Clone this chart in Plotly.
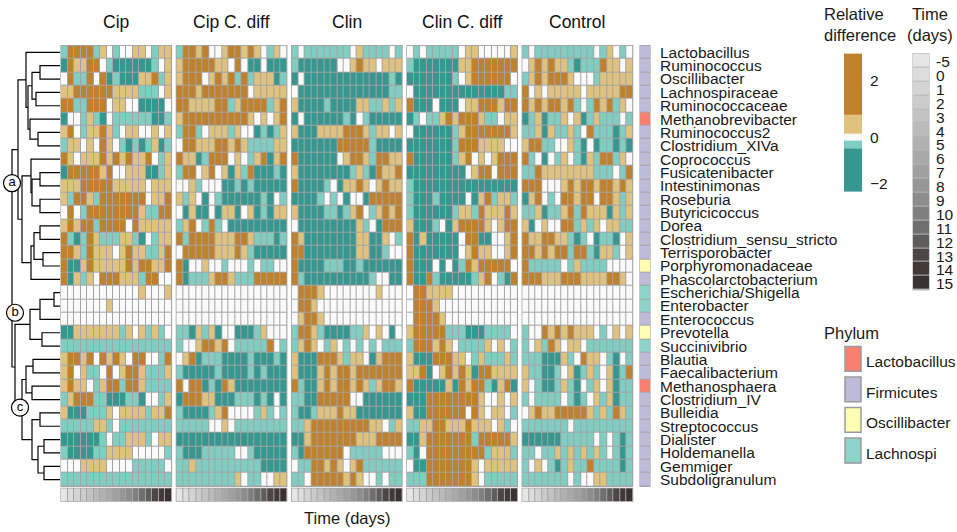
import plotly.graph_objects as go

W, H = 957, 532

# ---------------- data ----------------
GENERA = ["Lactobacillus", "Ruminococcus", "Oscillibacter", "Lachnospiraceae", "Ruminococcaceae",
          "Methanobrevibacter", "Ruminococcus2", "Clostridium_XIVa", "Coprococcus", "Fusicatenibacter",
          "Intestinimonas", "Roseburia", "Butyricicoccus", "Dorea", "Clostridium_sensu_stricto",
          "Terrisporobacter", "Porphyromonadaceae", "Phascolarctobacterium", "Escherichia/Shigella",
          "Enterobacter", "Enterococcus", "Prevotella", "Succinivibrio", "Blautia", "Faecalibacterium",
          "Methanosphaera", "Clostridium_IV", "Bulleidia", "Streptococcus", "Dialister", "Holdemanella",
          "Gemmiger", "Subdoligranulum"]

PHYLUM_NAMES = ["Lactobacillus", "Firmicutes", "Oscillibacter", "Lachnospi"]
# phylum index per genus (row)
PHYLUM_OF_ROW = [1, 1, 1, 1, 1, 0, 1, 1, 1, 1, 1, 1, 1, 1, 1, 1, 2, 1, 3, 3, 1, 2, 3, 1, 1, 0, 1, 1, 1, 1, 1, 1, 1]

TIME_DAYS = [-5, 0, 1, 2, 3, 4, 5, 6, 7, 8, 9, 10, 11, 12, 13, 14, 15]
GROUPS = ["Cip", "Cip C. diff", "Clin", "Clin C. diff", "Control"]

# relative difference levels: D=-2, T=-1, W=0, Y=1, B=2
LEVEL = {"D": -2, "T": -1, "W": 0, "Y": 1, "B": 2}

CIP = ["TBBBBTYWTWWYYWTYY", "DBYYBBWTDDDDDDTWY", "WBTTBWBDTDDDYYBTY", "YYBBBBBBYYYYTTTWY",
       "BBTTBBBWYYWWDDDDW", "DWWTYTDWTTTTTTDDT", "YBWTYYBYTWYYWWYWY", "TYYWYWBYWTDTDTYDT",
       "BYWYYYBYBYBYYBWTY", "DBBBBBYBWWYYYDDTY", "YYYBBBBBYYYYYWYYY", "YTBBYTBBBBBBBWYYB",
       "WBWTBBBBBBBBYTTBB", "YBYBBTBBBBWBYYYYY", "BTDTBYTTTYYTDWTYY", "BBYTBYYYWYBYYTTYB",
       "BDDYBYYYYYBYBBYYB", "BDYTYWBBBYYYTBBWW", "WWWWWWWWWWWWYWWWY", "WWWWWWWYWWWWWWWWW",
       "WWWWWWWWWWWWWWWWW", "DDYYYYYYYTYWYTYTW", "TTTTTTTTTTTTTTTTT", "YBBYBWBYBYWBBWWTB",
       "YBWYTTWBWYBBYTTTY", "YBYYWTYBBTBBYTTTT", "TYBBBTTDDDTTDWWTY", "YDDDTTTYWYYYYTYYB",
       "TTTTTYYTWTTTTTTTT", "DDDDDDTWTTYYYTWYY", "TDDDDTTYYYYWWWWWT", "WWWYYYYWWWWTTTTTW",
       "TTTTTTTTTTTTTTTTT"]

CIP_CD = ["TBBYBWWYBBYBYWTYW", "YBBBBBYYWBWDDWDDD", "YBBBWYBYBTBTYYYDT", "BBBYBBBBBBBWYYYYY",
          "BBYYYYBBTYBBBBTYB", "YBBBBBBBBBBYWYWYB", "TBBTWYYYTYWWDTDTY", "WBBYYYBBYBYTTTTYY",
          "BYYDTBBBWYWTYBDYB", "TBBWYBWYDYTBDDDTD", "WWYTWWWDDTDTDDDDD", "YTYWDWTDDDDDDTDWT",
          "WDYDDWDYYDWYDTDYY", "TYBWTBTWDDDDDDDDD", "BTBBBBYYYBBYTTTDT", "WBBBBBYYYBYTDDDDD",
          "BDWWYWWTWWWTWTTWW", "BDTTTYBBYTTTBBBBB", "WWWWWWWWWWWWWWWWW", "WWWWWWWWWWWWWWWWW",
          "WWWWWWWWWWWWWWWWW", "TTDYTYDWWDDDTYWWW", "TWWYBBYBWTTTTTBWT", "WYBDTTTDDDDTDDDTD",
          "TDDDDDTDDDDTDTDDD", "BWBBDTDBYDDDDDDDD", "DBBBYYDDDTTTDTDWD", "TDDDDTYBWWWWTYTWT",
          "TTTTTWWYWTTTTTTTT", "DDDDDDDDDDDDDDDDD", "TDDDTTTTTWWTDDDDD", "TTYTTTTTTTTTTDDDD",
          "TTTTTTTTTYWTTWWYY"]

CLIN = ["TWTTTTTTTWYTTTTWT", "TDDDDDDWWYBYYWYYY", "DWDDDDDDDDDDDDDTD", "WDDDDDDDDDDDDDDTT",
        "YDDDDTDDDDYYTTYTY", "DWDDDDDDTDWTDDDDD", "YDDDYYYYBBBYTYYWY", "DDDDDDDBBBBBTDDDD",
        "BDDDDDDWYBBYTBBYY", "YDDDDDDDDTYTDBYYB", "BDDDDTWDYYBYWYBYY", "DDDDTWTWDWWDBBBBB",
        "YDDDDTTDTYBWTYBYB", "WDDDDDDDDDYTWDBBB", "BYDDDDDDDDYYDDYWT", "BBDDDDDDDDYYDDTWW",
        "BDDDDTTTDDTDDDDDD", "BTDDDDDDDDDDTWWDD", "WBBBYWWWWWWWWYWWW", "WBBYWWWWWWWWWWWWW",
        "WYBBYWWWWWWWWWWWW", "TBBYTDDDDTTYWYWDW", "TYBYWTYWTWTWTWTTT", "YDDDBBBYTYYWDYBBB",
        "YDDDYBYBBYBBBBBBB", "BTDDYBYBBYBYTYBBY", "TTDDBBBBBWWDDDDDD", "TDDTYYYBYYDDDDDDD",
        "TTYBBBBBBBBBYYWTY", "DDYBBBBBBBYYYBBBB", "TDBBBBBBWTTTTTWWW", "WTTBBYBYWYBTTTTTT",
        "TTWBBBBBYBYWWTWTT"]

CLIN_CD = ["WTWTTTTTWYYWWWWWY", "TDDDDDDDYYBBBBBBB", "DDDDDDDTWYBBBBBBW", "WDDDDDDDDDDDDDDTT",
           "BDDDWDDDWYYBBBYBB", "DTWTTYBYBBBYTTWYY", "WDDDDDDTYBBBBBBBY", "DDDDDDDTBBBYYYYWW",
           "BDDDDDDTYBWYWYBBB", "DDDDDDDDDWYBBWBBB", "TDDDDDDDDDDDDDDDD", "TDDDTDDDDWDYBTYYT",
           "TDDDDDDTYYTBYYYBY", "YDDDTWDYBBBBYWYBB", "BDYDDDDDWBBDDWWYB", "BDDDDDDDWYBYYWWYB",
           "BDDDWDWDTBYBBBBBW", "BDDBTDDDDDTYBWTDB", "WBBYYYYWWWWWWWWWW", "WBBBYWWWWWWWWWWWW",
           "WBBBBYWWWWWWWWWWW", "YBBBBBTTTDDDTTTTW", "TBBBYBYWTTTTYWYWT", "YDDDBBBYYWTYTTTYT",
           "YYBDWYBYBYDBBYYYY", "BDDDDDYDBYBBTDYBD", "DDDBBBBBBBBYWWYWY", "YDDBBBBBBWBYWYYWT",
           "TTYYBBYYYBYYYWYTW", "DDYBBBBBBBTBBBBBY", "TDWBBBBBBBBBTYYYT", "WDDBBBBBBBYWYYYYY",
           "TTTBBBBBBBYWTTTTT"]

CONTROL = ["TWTTTTTTTTTWTYWTW", "WYBYBYYTDTTTBYYWY", "TYBYBBBYWWWTYYYYY", "BWYWYYYYYWYYYYYBB",
           "BYBYBBYBTWTBYBTYW", "DTYDTTYWYDTYTTTWT", "TTYDYTTYTWBTTTDTY", "YBBTTWWYTDWDTTDTD",
           "BTWDWTYWTDYTBBTYW", "TTBYYYYYYYYTTTWTB", "BBBWWWYBYBBYBBYBY", "DYBWTWBBYBBWBBYTY",
           "TTYDTTYBTBYYYDYTY", "YDWYWWBBTYTYWYYTT", "BYYBBYYTDTWDTTDWY", "BBYBYBBTBBTDYYTWY",
           "BTTTTTWTYTTTTWWWW", "BBBYYYBBBYYYYBBYW", "WWWWWWWWWWWWWWWWW", "WWWWWWWWWWWWWWWWW",
           "WWWWWWWWWWWWWWWWW", "TWWBYBYBYYYWTWYWY", "TWYTBYWYYWTTTTTTT", "TTTDDDYTWBYYWTDWT",
           "YTTDDTWYDTYTWYDTB", "YWTDDTYTDWTYWYDTT", "TWTTTTWTDTWYTYDTT", "WYBYYBBBBBYTYTBYT",
           "TTTTTTTWTTTTTTTTT", "DDDDDDTTTTTWTWTDT", "TTWTTYTYTYTYTWTDT", "TWYWTDTYTTBTTTTDT",
           "TTTTTTTWTWWYYTTTT"]

PANELS = [CIP, CIP_CD, CLIN, CLIN_CD, CONTROL]

# dendrogram merges (left id, right id, distance); leaves 0..32, merge k -> id 33+k
LINKAGE = [(1, 2, 20), (3, 4, 24), (33, 34, 28), (6, 7, 22), (5, 36, 30), (35, 37, 32), (0, 38, 34),
           (9, 10, 20), (11, 12, 20), (40, 41, 28), (8, 42, 29),
           (13, 14, 20), (15, 16, 17), (44, 45, 26), (46, 17, 29), (43, 47, 38), (39, 48, 42),
           (18, 19, 6), (50, 20, 20), (21, 22, 18), (51, 52, 30),
           (23, 24, 27), (25, 26, 28), (54, 55, 34), (27, 28, 20), (29, 30, 16), (31, 32, 16),
           (58, 59, 22), (57, 60, 28), (56, 61, 38), (53, 62, 45), (49, 63, 48)]
CLUSTER_LABELS = ["a", "b", "c"]
CLUSTER_LABEL_DIST = [48, 45, 40]
CLUSTER_LABEL_ROW = [9.8, 19.5, 26.6]

# ---------------- style ----------------
FONT = "Liberation Sans, Arial, sans-serif"
DIV_COLORS = ["#35978F", "#80CDC1", "#FAFAFA", "#DFC27D", "#BF812D"]
PHYLUM_COLORS = ["#FB8072", "#BEBADA", "#FFFFB3", "#8DD3C7"]
TIME_GRAYS = ["#E6E6E6", "#DDDDDD", "#D4D4D4", "#CBCBCB", "#C3C3C3", "#BABABA", "#B1B1B1", "#A9A9A9",
              "#A0A0A0", "#979797", "#8D8D8D", "#7F7F7F", "#6F6F6F", "#5F5C5C", "#4E4644", "#433A38",
              "#3A3230"]
GRID = "#A4A4A4"


def discrete_scale(colors):
    n = len(colors)
    cs = []
    for i, c in enumerate(colors):
        cs.append([i / n, c])
        cs.append([(i + 1) / n, c])
    return cs


DIV_SCALE = discrete_scale(DIV_COLORS)
PHY_SCALE = discrete_scale(PHYLUM_COLORS)
TIME_SCALE = discrete_scale(TIME_GRAYS)

# layout geometry (pixels)
PANEL_LEFT, PANEL_W, PANEL_STEP = 61.0, 110.5, 115.3
ROW_TOP, ROW_BOT = 44.0, 488.0
TIME_TOP, TIME_BOT = 490.0, 503.0
STRIP_L, STRIP_R = 640.0, 650.0
DENDRO_R = 60.0

NR = len(GENERA)
NC = len(TIME_DAYS)


def fx(p):
    return p / W


def fy(p):
    return 1 - p / H


fig = go.Figure()
layout_axes = {}
shapes = []

for k, (name, rows) in enumerate(zip(GROUPS, PANELS)):
    assert len(rows) == NR, name
    z = []
    for r in rows:
        assert len(r) == NC, (name, r)
        z.append([LEVEL[c] for c in r])
    ax = "x" if k == 0 else f"x{k + 1}"
    fig.add_trace(go.Heatmap(z=z, x=list(range(NC)), y=list(range(NR)), xaxis=ax, yaxis="y",
                             colorscale=DIV_SCALE, zmin=-2.5, zmax=2.5, showscale=False,
                             xgap=1, ygap=1, hoverinfo="skip"))
    fig.add_trace(go.Heatmap(z=[list(range(NC))], x=list(range(NC)), y=[0], xaxis=ax, yaxis="y2",
                             colorscale=TIME_SCALE, zmin=-0.5, zmax=NC - 0.5, showscale=False,
                             xgap=1, hoverinfo="skip"))
    left = PANEL_LEFT + k * PANEL_STEP
    key = "xaxis" if k == 0 else f"xaxis{k + 1}"
    layout_axes[key] = dict(domain=[fx(left), fx(left + PANEL_W)], range=[-0.5, NC - 0.5],
                            visible=False, anchor="y2")
    for (t, b) in [(ROW_TOP, ROW_BOT), (TIME_TOP, TIME_BOT)]:
        shapes.append(dict(type="rect", xref="paper", yref="paper", layer="below",
                           x0=fx(left - 0.6), x1=fx(left + PANEL_W + 0.6), y0=fy(b + 0.6), y1=fy(t - 0.6),
                           fillcolor=GRID, line=dict(width=0)))
    fig.add_annotation(xref="paper", yref="paper", x=fx(left + PANEL_W / 2), y=fy(20), text=name,
                       showarrow=False, font=dict(size=17.5, color="#111111", family=FONT),
                       xanchor="center", yanchor="middle")

# phylum strip
fig.add_trace(go.Heatmap(z=[[p] for p in PHYLUM_OF_ROW], x=[0], y=list(range(NR)), xaxis="x6", yaxis="y",
                         colorscale=PHY_SCALE, zmin=-0.5, zmax=len(PHYLUM_NAMES) - 0.5, showscale=False,
                         ygap=1, hoverinfo="skip"))
layout_axes["xaxis6"] = dict(domain=[fx(STRIP_L), fx(STRIP_R)], range=[-0.5, 0.5], visible=False, anchor="y")
shapes.append(dict(type="rect", xref="paper", yref="paper", layer="below",
                   x0=fx(STRIP_L - 0.6), x1=fx(STRIP_R + 0.6), y0=fy(ROW_BOT + 0.6), y1=fy(ROW_TOP - 0.6),
                   fillcolor=GRID, line=dict(width=0)))

# dendrogram
pos = {i: (float(i), 0.0) for i in range(NR)}
lx, ly = [], []
for k, (a, b, d) in enumerate(LINKAGE):
    ya, da = pos[a]
    yb, db = pos[b]
    lx += [da, d, d, db, None]
    ly += [ya, ya, yb, yb, None]
    pos[NR + k] = ((ya + yb) / 2, d)
fig.add_trace(go.Scatter(x=lx, y=ly, xaxis="x7", yaxis="y", mode="lines",
                         line=dict(color="black", width=1.2), hoverinfo="skip", showlegend=False))
fig.add_trace(go.Scatter(x=CLUSTER_LABEL_DIST, y=CLUSTER_LABEL_ROW, xaxis="x7", yaxis="y",
                         mode="markers+text", text=CLUSTER_LABELS, textposition="middle center",
                         textfont=dict(size=13, color="black", family=FONT),
                         marker=dict(symbol="circle", size=17, color="white", line=dict(color="black", width=1.2)),
                         hoverinfo="skip", showlegend=False, cliponaxis=False))
layout_axes["xaxis7"] = dict(domain=[0, fx(DENDRO_R)], range=[DENDRO_R, 0], visible=False, anchor="y")

# ---------------- legends (pixel axis) ----------------
# relative difference bar
RD_EDGES = [52, 113, 133, 140, 148, 191]
fig.add_trace(go.Heatmap(z=[[2], [1], [0], [-1], [-2]], x=[844, 862], y=RD_EDGES, xaxis="x8", yaxis="y3",
                         colorscale=DIV_SCALE, zmin=-2.5, zmax=2.5, showscale=False, hoverinfo="skip"))
for val, yy in [("2", 79), ("0", 137), ("\u22122", 183)]:
    fig.add_annotation(xref="x8", yref="y3", x=868, y=yy, text=val, showarrow=False, xanchor="left",
                       yanchor="middle", font=dict(size=15.5, color="#1a1a1a", family=FONT))
fig.add_annotation(xref="x8", yref="y3", x=822, y=23, text="Relative<br>difference", showarrow=False,
                   xanchor="left", yanchor="middle", align="left",
                   font=dict(size=16.5, color="#1a1a1a", family=FONT))
fig.add_annotation(xref="x8", yref="y3", x=930, y=23, text="Time<br>(days)", showarrow=False,
                   xanchor="center", yanchor="middle", align="center",
                   font=dict(size=16.5, color="#1a1a1a", family=FONT))

# time legend
T_TOP, T_STEP = 52.0, 14.0
t_edges = [T_TOP + i * T_STEP for i in range(NC + 1)]
fig.add_trace(go.Heatmap(z=[[i] for i in range(NC)], x=[913, 929], y=t_edges, xaxis="x8", yaxis="y3",
                         colorscale=TIME_SCALE, zmin=-0.5, zmax=NC - 0.5, showscale=False, ygap=1,
                         hoverinfo="skip"))
shapes.append(dict(type="rect", xref="x8", yref="y3", layer="below", x0=912.4, x1=929.6,
                   y0=t_edges[0] - 0.6, y1=t_edges[-1] + 0.6, fillcolor="#B8B8B8", line=dict(width=0)))
for i, d in enumerate(TIME_DAYS):
    fig.add_annotation(xref="x8", yref="y3", x=934, y=(t_edges[i] + t_edges[i + 1]) / 2 + 1, text=str(d),
                       showarrow=False, xanchor="left", yanchor="middle",
                       font=dict(size=15.5, color="#1a1a1a", family=FONT))

# phylum legend
P_TOP, P_H, P_STEP = 347.0, 25.0, 30.8
p_edges, p_z = [], []
for i in range(len(PHYLUM_NAMES)):
    t = P_TOP + i * P_STEP
    p_edges += [t, t + P_H]
    p_z += [[i], [None]]
p_z = p_z[:-1]
fig.add_trace(go.Heatmap(z=p_z, x=[845, 861], y=p_edges, xaxis="x8", yaxis="y3",
                         colorscale=PHY_SCALE, zmin=-0.5, zmax=len(PHYLUM_NAMES) - 0.5, showscale=False,
                         hoverinfo="skip"))
for i, nm in enumerate(PHYLUM_NAMES):
    t = P_TOP + i * P_STEP
    shapes.append(dict(type="rect", xref="x8", yref="y3", layer="above", x0=845, x1=861, y0=t, y1=t + P_H,
                       line=dict(color="#9A9A9A", width=1.5), fillcolor="rgba(0,0,0,0)"))
    fig.add_annotation(xref="x8", yref="y3", x=864, y=t + P_H / 2 + 3, text=nm, showarrow=False,
                       xanchor="left", yanchor="middle", font=dict(size=15.5, color="#1a1a1a", family=FONT))
fig.add_annotation(xref="x8", yref="y3", x=822, y=333, text="Phylum", showarrow=False,
                   xanchor="left", yanchor="middle", font=dict(size=16.5, color="#1a1a1a", family=FONT))

# bottom axis title
fig.add_annotation(xref="x8", yref="y3", x=PANEL_LEFT + 2 * PANEL_STEP + PANEL_W / 2, y=520,
                   text="Time (days)", showarrow=False, xanchor="center", yanchor="middle",
                   font=dict(size=16.5, color="#1a1a1a", family=FONT))

layout_axes["xaxis8"] = dict(domain=[0, 1], range=[0, W], visible=False, anchor="y3")

fig.update_layout(
    width=W, height=H, margin=dict(l=0, r=0, t=0, b=0),
    paper_bgcolor="white", plot_bgcolor="rgba(0,0,0,0)",
    font=dict(family=FONT, color="#1a1a1a"),
    showlegend=False,
    yaxis=dict(domain=[fy(ROW_BOT), fy(ROW_TOP)], range=[NR - 0.5, -0.5], anchor="x6", side="right",
               tickmode="array", tickvals=list(range(NR)), ticktext=GENERA, ticks="",
               ticklabelstandoff=9, showgrid=False, zeroline=False, showline=False,
               tickfont=dict(size=15.5, color="#1a1a1a", family=FONT)),
    yaxis2=dict(domain=[fy(TIME_BOT), fy(TIME_TOP)], range=[0.5, -0.5], visible=False, anchor="x"),
    yaxis3=dict(domain=[0, 1], range=[H, 0], visible=False, anchor="x8"),
    shapes=shapes,
    **layout_axes,
)

fig.write_html("out.html", config={"displayModeBar": False},
               post_script="document.body.style.margin='0';document.body.style.padding='0';"
                           "document.body.style.overflow='hidden';")
